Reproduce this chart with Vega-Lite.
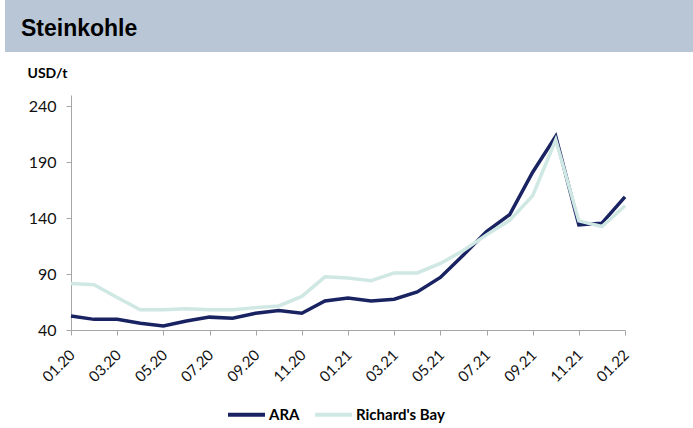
{
  "$schema": "https://vega.github.io/schema/vega-lite/v6.json",
  "padding": {"left": 5, "top": 0, "right": 0, "bottom": 0},
  "background": "white",
  "spacing": 14,
  "config": {"view": {"stroke": null}, "font": "Lato"},
  "vconcat": [
    {
      "width": 688,
      "height": 52,
      "data": {"values": [{"t": "Steinkohle"}]},
      "mark": {"type": "rect", "color": "#B9C6D6"},
      "encoding": {},
      "title": {"text": "Steinkohle", "anchor": "start", "frame": "group", "offset": -59, "baseline": "alphabetic", "dx": 16, "font": "Liberation Sans", "fontSize": 23, "fontWeight": "bold", "color": "#000000"}
    },
    {
      "spacing": 0,
      "hconcat": [
        {
          "width": 1,
          "height": 235,
          "data": {"values": [{"t": "spacer"}]},
          "mark": {"type": "rect", "color": "#FFFFFF"},
          "encoding": {}
        },
        {
          "width": 554,
          "height": 235,
          "data": {"values": [
            {"month": "01.20", "series": "ARA", "value": 52.5},
            {"month": "02.20", "series": "ARA", "value": 49.5},
            {"month": "03.20", "series": "ARA", "value": 49.5},
            {"month": "04.20", "series": "ARA", "value": 46},
            {"month": "05.20", "series": "ARA", "value": 43.5},
            {"month": "06.20", "series": "ARA", "value": 48},
            {"month": "07.20", "series": "ARA", "value": 51.5},
            {"month": "08.20", "series": "ARA", "value": 50.5},
            {"month": "09.20", "series": "ARA", "value": 55},
            {"month": "10.20", "series": "ARA", "value": 57.5},
            {"month": "11.20", "series": "ARA", "value": 55},
            {"month": "12.20", "series": "ARA", "value": 66},
            {"month": "01.21", "series": "ARA", "value": 68.5},
            {"month": "02.21", "series": "ARA", "value": 66},
            {"month": "03.21", "series": "ARA", "value": 67.5},
            {"month": "04.21", "series": "ARA", "value": 74},
            {"month": "05.21", "series": "ARA", "value": 87},
            {"month": "06.21", "series": "ARA", "value": 107},
            {"month": "07.21", "series": "ARA", "value": 128},
            {"month": "08.21", "series": "ARA", "value": 143},
            {"month": "09.21", "series": "ARA", "value": 181},
            {"month": "10.21", "series": "ARA", "value": 213},
            {"month": "11.21", "series": "ARA", "value": 134},
            {"month": "12.21", "series": "ARA", "value": 135.5},
            {"month": "01.22", "series": "ARA", "value": 159},
            {"month": "01.20", "series": "Richard's Bay", "value": 81.5},
            {"month": "02.20", "series": "Richard's Bay", "value": 80.5},
            {"month": "03.20", "series": "Richard's Bay", "value": 69},
            {"month": "04.20", "series": "Richard's Bay", "value": 58},
            {"month": "05.20", "series": "Richard's Bay", "value": 58},
            {"month": "06.20", "series": "Richard's Bay", "value": 59},
            {"month": "07.20", "series": "Richard's Bay", "value": 58},
            {"month": "08.20", "series": "Richard's Bay", "value": 58},
            {"month": "09.20", "series": "Richard's Bay", "value": 60},
            {"month": "10.20", "series": "Richard's Bay", "value": 61.5},
            {"month": "11.20", "series": "Richard's Bay", "value": 70},
            {"month": "12.20", "series": "Richard's Bay", "value": 87.5},
            {"month": "01.21", "series": "Richard's Bay", "value": 86.5},
            {"month": "02.21", "series": "Richard's Bay", "value": 84},
            {"month": "03.21", "series": "Richard's Bay", "value": 91},
            {"month": "04.21", "series": "Richard's Bay", "value": 91},
            {"month": "05.21", "series": "Richard's Bay", "value": 99.5},
            {"month": "06.21", "series": "Richard's Bay", "value": 111},
            {"month": "07.21", "series": "Richard's Bay", "value": 125},
            {"month": "08.21", "series": "Richard's Bay", "value": 138},
            {"month": "09.21", "series": "Richard's Bay", "value": 160},
            {"month": "10.21", "series": "Richard's Bay", "value": 210},
            {"month": "11.21", "series": "Richard's Bay", "value": 137.5},
            {"month": "12.21", "series": "Richard's Bay", "value": 132.5},
            {"month": "01.22", "series": "Richard's Bay", "value": 151}
          ]},
          "mark": {"type": "line", "strokeWidth": 3.5},
          "encoding": {
            "x": {
              "field": "month", "type": "ordinal", "sort": null,
              "scale": {"type": "point", "padding": 0},
              "axis": {
                "title": null,
                "values": ["01.20", "03.20", "05.20", "07.20", "09.20", "11.20", "01.21", "03.21", "05.21", "07.21", "09.21", "11.21", "01.22"],
                "labelAngle": -45, "labelFont": "Lato", "labelFontSize": 15, "labelColor": "#111111",
                "labelOffset": -4,
                "tickSize": 5, "labelPadding": 12, "domainColor": "#A6A6A6", "tickColor": "#A6A6A6", "grid": false
              }
            },
            "y": {
              "field": "value", "type": "quantitative",
              "scale": {"domain": [40, 250], "nice": false, "zero": false},
              "axis": {
                "title": "USD/t", "titleAngle": 0, "titleX": -44, "titleY": -18, "titleAlign": "left", "titleBaseline": "alphabetic",
                "titleFont": "Lato", "titleFontSize": 14, "titleFontWeight": "bold", "titleColor": "#000000",
                "values": [40, 90, 140, 190, 240], "minExtent": 65,
                "labelFont": "Lato", "labelFontSize": 16, "labelColor": "#111111",
                "tickSize": 5, "labelPadding": 10, "domainColor": "#A6A6A6", "tickColor": "#A6A6A6", "grid": false
              }
            },
            "color": {
              "field": "series", "type": "nominal",
              "scale": {"domain": ["ARA", "Richard's Bay"], "range": ["#1A2362", "#D0E8E3"]},
              "legend": {
                "title": null, "orient": "none", "legendX": 221, "legendY": 394, "direction": "horizontal",
                "symbolType": "stroke", "symbolSize": 1369, "symbolStrokeWidth": 4,
                "labelFont": "Lato", "labelFontSize": 15, "labelFontWeight": "bold", "labelColor": "#000000",
                "labelOffset": 2, "columnPadding": 7
              }
            }
          }
        }
      ]
    }
  ]
}
